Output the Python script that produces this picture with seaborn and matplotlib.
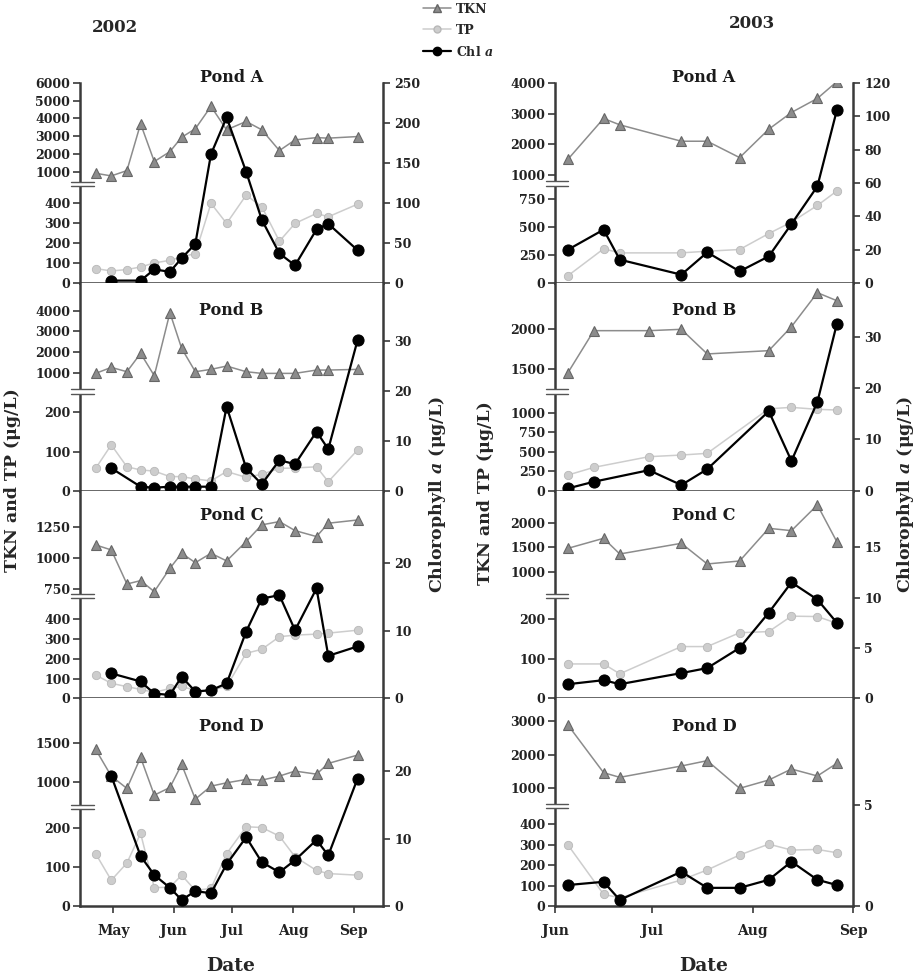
import numpy as np
import pandas as pd
import matplotlib
matplotlib.use("Agg")
import matplotlib.pyplot as plt
import matplotlib.dates as mdates
from matplotlib.lines import Line2D
from matplotlib.patches import Rectangle
import seaborn as sns

# ------------------------------------------------------------------ data
dates_2002 = ['2002-04-22', '2002-04-30', '2002-05-08', '2002-05-15', '2002-05-22',
              '2002-05-30', '2002-06-05', '2002-06-12', '2002-06-20', '2002-06-28',
              '2002-07-08', '2002-07-16', '2002-07-25', '2002-08-02', '2002-08-13',
              '2002-08-19', '2002-09-03']
dates_2003 = ['2003-06-05', '2003-06-16', '2003-06-21', '2003-07-10', '2003-07-18',
              '2003-07-28', '2003-08-06', '2003-08-13', '2003-08-21', '2003-08-27']
dates_2003_B = ['2003-06-05', '2003-06-13', '2003-06-30', '2003-07-10', '2003-07-18',
                '2003-08-06', '2003-08-13', '2003-08-21', '2003-08-27']

nan = np.nan
# 2002
tkn_02_A = [910, 760, 1060, 3700, 1570, 2130, 2940, 3420, 4680, 3360, 3830, 3360, 2190, 2790, 2920, 2890, 2980]
tp_02_A = [72, 60, 67, 80, 100, 113, 130, 147, 397, 297, 438, 380, 208, 297, 347, 330, 393]
chl_02_A = [nan, 3, nan, 3, 17, 14, 31, 49, 161, 207, 139, 79, 37, 22, 67, 74, 41]

tkn_02_B = [968, 1258, 1048, 1935, 855, 3903, 2177, 1048, 1161, 1323, 1048, 968, 968, 968, 1129, 1129, 1161]
tp_02_B = [57, 117, 61, 53, 50, 36, 36, 30, 25, 49, 34, 42, 57, 58, 61, 23, 104]
chl_02_B = [nan, 4.5, nan, 0.8, 0.6, 0.8, 0.8, 0.8, 0.8, 16.8, 4.5, 1.3, 6.1, 5.3, 11.8, 8.3, 30.1]

tkn_02_C = [1103, 1063, 790, 817, 729, 916, 1036, 961, 1036, 975, 1130, 1264, 1290, 1218, 1170, 1277, 1303]
tp_02_C = [118, 76, 59, 45, 30, 50, 60, 40, 40, 60, 228, 248, 312, 320, 325, 330, 345]
chl_02_C = [nan, 3.7, nan, 2.5, 0.7, 0.5, 3.2, 1.0, 1.2, 2.2, 9.9, 14.8, 15.3, 10.1, 16.3, 6.3, 7.7]

tkn_02_D = [1415, 1073, 915, 1312, 829, 927, 1222, 778, 944, 987, 1030, 1021, 1073, 1137, 1098, 1235, 1342]
tp_02_D = [134, 66, 110, 186, 47, 48, 79, 40, 45, 134, 203, 201, 179, 126, 91, 83, 79]
chl_02_D = [nan, 19.3, nan, 7.4, 4.6, 2.7, 0.9, 2.2, 1.9, 6.2, 10.2, 6.5, 5.0, 6.8, 9.8, 7.5, 18.9]

# 2003
tkn_03_A = [1513, 2843, 2636, 2101, 2101, 1567, 2494, 3039, 3497, 4043]
tp_03_A = [65, 304, 268, 268, 283, 298, 440, 542, 690, 818]
chl_03_A = [20, 32, 14, 5, 18.4, 7, 16, 35.4, 58, 103.6]

tkn_03_B = [1458, 1983, 1983, 2000, 1692, 1733, 2033, 2458, 2358]
tp_03_B = [201, 299, 436, 457, 479, 1050, 1068, 1043, 1034]
chl_03_B = [0.45, 1.75, 4.0, 1.1, 4.2, 15.5, 5.8, 17.3, 32.5]

tkn_03_C = [1483, 1685, 1369, 1584, 1168, 1228, 1886, 1839, 2356, 1617]
tp_03_C = [87, 87, 62, 131, 131, 166, 169, 208, 207, 190]
chl_03_C = [1.4, 1.8, 1.4, 2.5, 3.0, 5.0, 8.5, 11.5, 9.8, 7.5]

tkn_03_D = [2872, 1463, 1325, 1660, 1818, 1000, 1246, 1571, 1365, 1739]
tp_03_D = [298, 57, 40, 127, 176, 249, 302, 273, 276, 260]
chl_03_D = [1.04, 1.2, 0.3, 1.7, 0.9, 0.9, 1.3, 2.2, 1.3, 1.04]

pond_names = ['Pond A', 'Pond B', 'Pond C', 'Pond D']
year_labels = ['2002', '2003']
legend_labels = ['TKN', 'TP', 'Chl $a$']

series = {
    ('2002', 0): (dates_2002, tkn_02_A, tp_02_A, chl_02_A),
    ('2002', 1): (dates_2002, tkn_02_B, tp_02_B, chl_02_B),
    ('2002', 2): (dates_2002, tkn_02_C, tp_02_C, chl_02_C),
    ('2002', 3): (dates_2002, tkn_02_D, tp_02_D, chl_02_D),
    ('2003', 0): (dates_2003, tkn_03_A, tp_03_A, chl_03_A),
    ('2003', 1): (dates_2003_B, tkn_03_B, tp_03_B, chl_03_B),
    ('2003', 2): (dates_2003, tkn_03_C, tp_03_C, chl_03_C),
    ('2003', 3): (dates_2003, tkn_03_D, tp_03_D, chl_03_D),
}

# ------------------------------------------------------------------ axis configuration
# broken left axis: anchor values -> fraction of axis height
axis_cfg = {
    ('2002', 0): dict(vals=[0, 450, 700, 6000], fracs=[0, 0.4514, 0.5301, 1.0],
                      ticks=[0, 100, 200, 300, 400, 1000, 2000, 3000, 4000, 5000, 6000],
                      brk=0.495, chl_top=250, chl_ticks=[0, 50, 100, 150, 200, 250]),
    ('2002', 1): dict(vals=[0, 240, 700, 5340], fracs=[0, 0.4527, 0.5382, 1.0],
                      ticks=[0, 100, 200, 1000, 2000, 3000, 4000],
                      brk=0.4766, chl_top=41.5, chl_ticks=[0, 10, 20, 30]),
    ('2002', 2): dict(vals=[0, 450, 720, 1537.6], fracs=[0, 0.428, 0.5085, 1.0],
                      ticks=[0, 100, 200, 300, 400, 750, 1000, 1250],
                      brk=0.4928, chl_top=30.8, chl_ticks=[0, 10, 20]),
    ('2002', 3): dict(vals=[0, 220, 750, 2069], fracs=[0, 0.4136, 0.504, 1.0],
                      ticks=[0, 100, 200, 1000, 1500],
                      brk=0.4773, chl_top=30.8, chl_ticks=[0, 10, 20]),
    ('2003', 0): dict(vals=[0, 850, 900, 4000], fracs=[0, 0.4777, 0.5247, 1.0],
                      ticks=[0, 250, 500, 750, 1000, 2000, 3000, 4000],
                      brk=0.498, chl_top=120, chl_ticks=[0, 20, 40, 60, 80, 100, 120]),
    ('2003', 1): dict(vals=[0, 1150, 1400, 2579], fracs=[0, 0.432, 0.546, 1.0],
                      ticks=[0, 250, 500, 750, 1000, 1500, 2000],
                      brk=0.4766, chl_top=40.5, chl_ticks=[0, 10, 20, 30]),
    ('2003', 2): dict(vals=[0, 225, 900, 2644], fracs=[0, 0.428, 0.583, 1.0],
                      ticks=[0, 100, 200, 1000, 1500, 2000],
                      brk=0.4928, chl_top=20.6, chl_ticks=[0, 5, 10, 15]),
    ('2003', 3): dict(vals=[0, 440, 800, 3663], fracs=[0, 0.434, 0.534, 1.0],
                      ticks=[0, 100, 200, 300, 400, 1000, 2000, 3000],
                      brk=0.4815, chl_top=10.3, chl_ticks=[0, 5]),
}

xlims = {'2002': ('2002-04-14', '2002-09-16'), '2003': ('2003-06-01', '2003-09-01')}

# ------------------------------------------------------------------ style
sns.set_style('ticks')
plt.rcParams['font.family'] = ['DejaVu Serif', 'DejaVu Sans']
plt.rcParams['font.weight'] = 'bold'
plt.rcParams['mathtext.fontset'] = 'dejavuserif'
plt.rcParams['axes.linewidth'] = 1.8

TKN_C, TKN_E = '#8c8c8c', '#666666'
TP_C, TP_E = '#cdcdcd', '#b8b8b8'
CHL_C = '#000000'
SPINE_C = '#3a3a3a'

W, H = 923, 977
fig = plt.figure(figsize=(W / 100, H / 100), dpi=100)

col_x = {'2002': (80, 383), '2003': (555, 853)}
row_y = [(83, 283), (283, 490.7), (490.7, 698.3), (698.3, 906)]
title_y = [1.03, 0.87, 0.88, 0.865]


def piecewise(vals, fracs):
    v = np.asarray(vals, float)
    f = np.asarray(fracs, float)

    def interp(x, xp, fp):
        x = np.asarray(x, float)
        out = np.interp(x, xp, fp)
        lo_s = (fp[1] - fp[0]) / (xp[1] - xp[0])
        hi_s = (fp[-1] - fp[-2]) / (xp[-1] - xp[-2])
        out = np.where(x < xp[0], fp[0] + (x - xp[0]) * lo_s, out)
        out = np.where(x > xp[-1], fp[-1] + (x - xp[-1]) * hi_s, out)
        return out

    return (lambda x: interp(x, v, f)), (lambda y: interp(y, f, v))


def frame(dates, values):
    return pd.DataFrame({'date': pd.to_datetime(dates), 'value': values}).dropna()


for year in year_labels:
    x0, x1 = col_x[year]
    for r in range(4):
        y_top, y_bot = row_y[r]
        rect = [x0 / W, 1 - y_bot / H, (x1 - x0) / W, (y_bot - y_top) / H]
        ax = fig.add_axes(rect)
        cfg = axis_cfg[(year, r)]
        fwd, inv = piecewise(cfg['vals'], cfg['fracs'])
        ax.set_yscale('function', functions=(fwd, inv))
        ax2 = ax.twinx()

        dates, tkn, tp, chl = series[(year, r)]
        sns.lineplot(data=frame(dates, tkn), x='date', y='value', ax=ax, color=TKN_C,
                     marker='^', markersize=7, markeredgecolor=TKN_E, markeredgewidth=0.8,
                     linewidth=1.1, estimator=None, legend=False, zorder=3)
        sns.lineplot(data=frame(dates, tp), x='date', y='value', ax=ax, color=TP_C,
                     marker='o', markersize=6, markeredgecolor=TP_E, markeredgewidth=0.6,
                     linewidth=1.1, estimator=None, legend=False, zorder=2)
        sns.lineplot(data=frame(dates, chl), x='date', y='value', ax=ax2, color=CHL_C,
                     marker='o', markersize=8, markeredgecolor=CHL_C,
                     linewidth=1.6, estimator=None, legend=False, zorder=4)

        ax.set_ylim(0, cfg['vals'][-1])
        ax.set_yticks(cfg['ticks'])
        ax.set_yticklabels([str(t) for t in cfg['ticks']])
        ax.yaxis.set_minor_locator(matplotlib.ticker.NullLocator())
        ax2.set_ylim(0, cfg['chl_top'])
        ax2.set_yticks(cfg['chl_ticks'])
        ax2.set_yticklabels([str(t) for t in cfg['chl_ticks']])

        lo, hi = xlims[year]
        ax.set_xlim(mdates.date2num(pd.Timestamp(lo)), mdates.date2num(pd.Timestamp(hi)))
        ax.xaxis.set_major_locator(mdates.MonthLocator())
        ax.xaxis.set_major_formatter(mdates.DateFormatter('%b'))

        for a in (ax, ax2):
            a.set_xlabel('')
            a.set_ylabel('')
            a.spines['top'].set_visible(False)
            for s in a.spines.values():
                s.set_linewidth(1.8)
                s.set_color(SPINE_C)
        ax.spines['right'].set_visible(False)
        ax2.spines['left'].set_visible(False)
        ax2.spines['bottom'].set_visible(False)

        ax.tick_params(axis='y', direction='out', length=5, width=1.2, labelsize=9,
                       pad=2, colors=SPINE_C, labelcolor='#222222')
        ax2.tick_params(axis='y', direction='out', length=5, width=1.2, labelsize=9,
                        pad=3, colors=SPINE_C, labelcolor='#222222')
        if r == 3:
            ax.tick_params(axis='x', direction='out', length=5, width=1.2, labelsize=10,
                           pad=8, colors=SPINE_C, labelcolor='#222222')
        else:
            ax.tick_params(axis='x', length=0, labelbottom=False)

        ax.text(0.5, title_y[r], pond_names[r], transform=ax.transAxes, ha='center',
                va='center', fontsize=11.5, fontweight='bold', color='#1a1a1a')

        # axis break marker on the left spine
        b = cfg['brk']
        ax2.add_patch(Rectangle((-0.02, b - 0.011), 0.04, 0.022, transform=ax2.transAxes,
                                facecolor='white', edgecolor='none', clip_on=False, zorder=10))
        for dy in (-0.011, 0.011):
            ax2.add_line(Line2D([-0.03, 0.045], [b + dy, b + dy], transform=ax2.transAxes,
                                color='#555555', linewidth=1.0, clip_on=False, zorder=11))

# ------------------------------------------------------------------ figure texts
fig.text(115 / W, 1 - 27 / H, year_labels[0], ha='center', va='center', fontsize=12,
         fontweight='bold')
fig.text(752 / W, 1 - 23 / H, year_labels[1], ha='center', va='center', fontsize=12,
         fontweight='bold')

ylab = 'TKN and TP (\u03bcg/L)'
chllab = 'Chlorophyll $a$ (\u03bcg/L)'
fig.text(13 / W, 1 - 480 / H, ylab, rotation=90, ha='center', va='center', fontsize=12.5,
         fontweight='bold')
fig.text(485 / W, 1 - 493 / H, ylab, rotation=90, ha='center', va='center', fontsize=12.5,
         fontweight='bold')
fig.text(437 / W, 1 - 495 / H, chllab, rotation=90, ha='center', va='center', fontsize=12.5,
         fontweight='bold')
fig.text(906 / W, 1 - 495 / H, chllab, rotation=90, ha='center', va='center', fontsize=12.5,
         fontweight='bold')
fig.text(231 / W, 1 - 966 / H, 'Date', ha='center', va='center', fontsize=13.5,
         fontweight='bold')
fig.text(704 / W, 1 - 966 / H, 'Date', ha='center', va='center', fontsize=13.5,
         fontweight='bold')

handles = [
    Line2D([], [], color=TKN_C, marker='^', markersize=6, markeredgecolor=TKN_E, linewidth=1.1),
    Line2D([], [], color=TP_C, marker='o', markersize=5, markeredgecolor=TP_E, linewidth=1.1),
    Line2D([], [], color=CHL_C, marker='o', markersize=6, linewidth=1.6),
]
fig.legend(handles, legend_labels, loc='upper left', bbox_to_anchor=(415 / W, 1 + 5 / H),
           frameon=False, fontsize=9, handlelength=2.3, handletextpad=0.4,
           labelspacing=0.65, borderpad=0.1)

fig.savefig('out.png', dpi=100, facecolor='white')
